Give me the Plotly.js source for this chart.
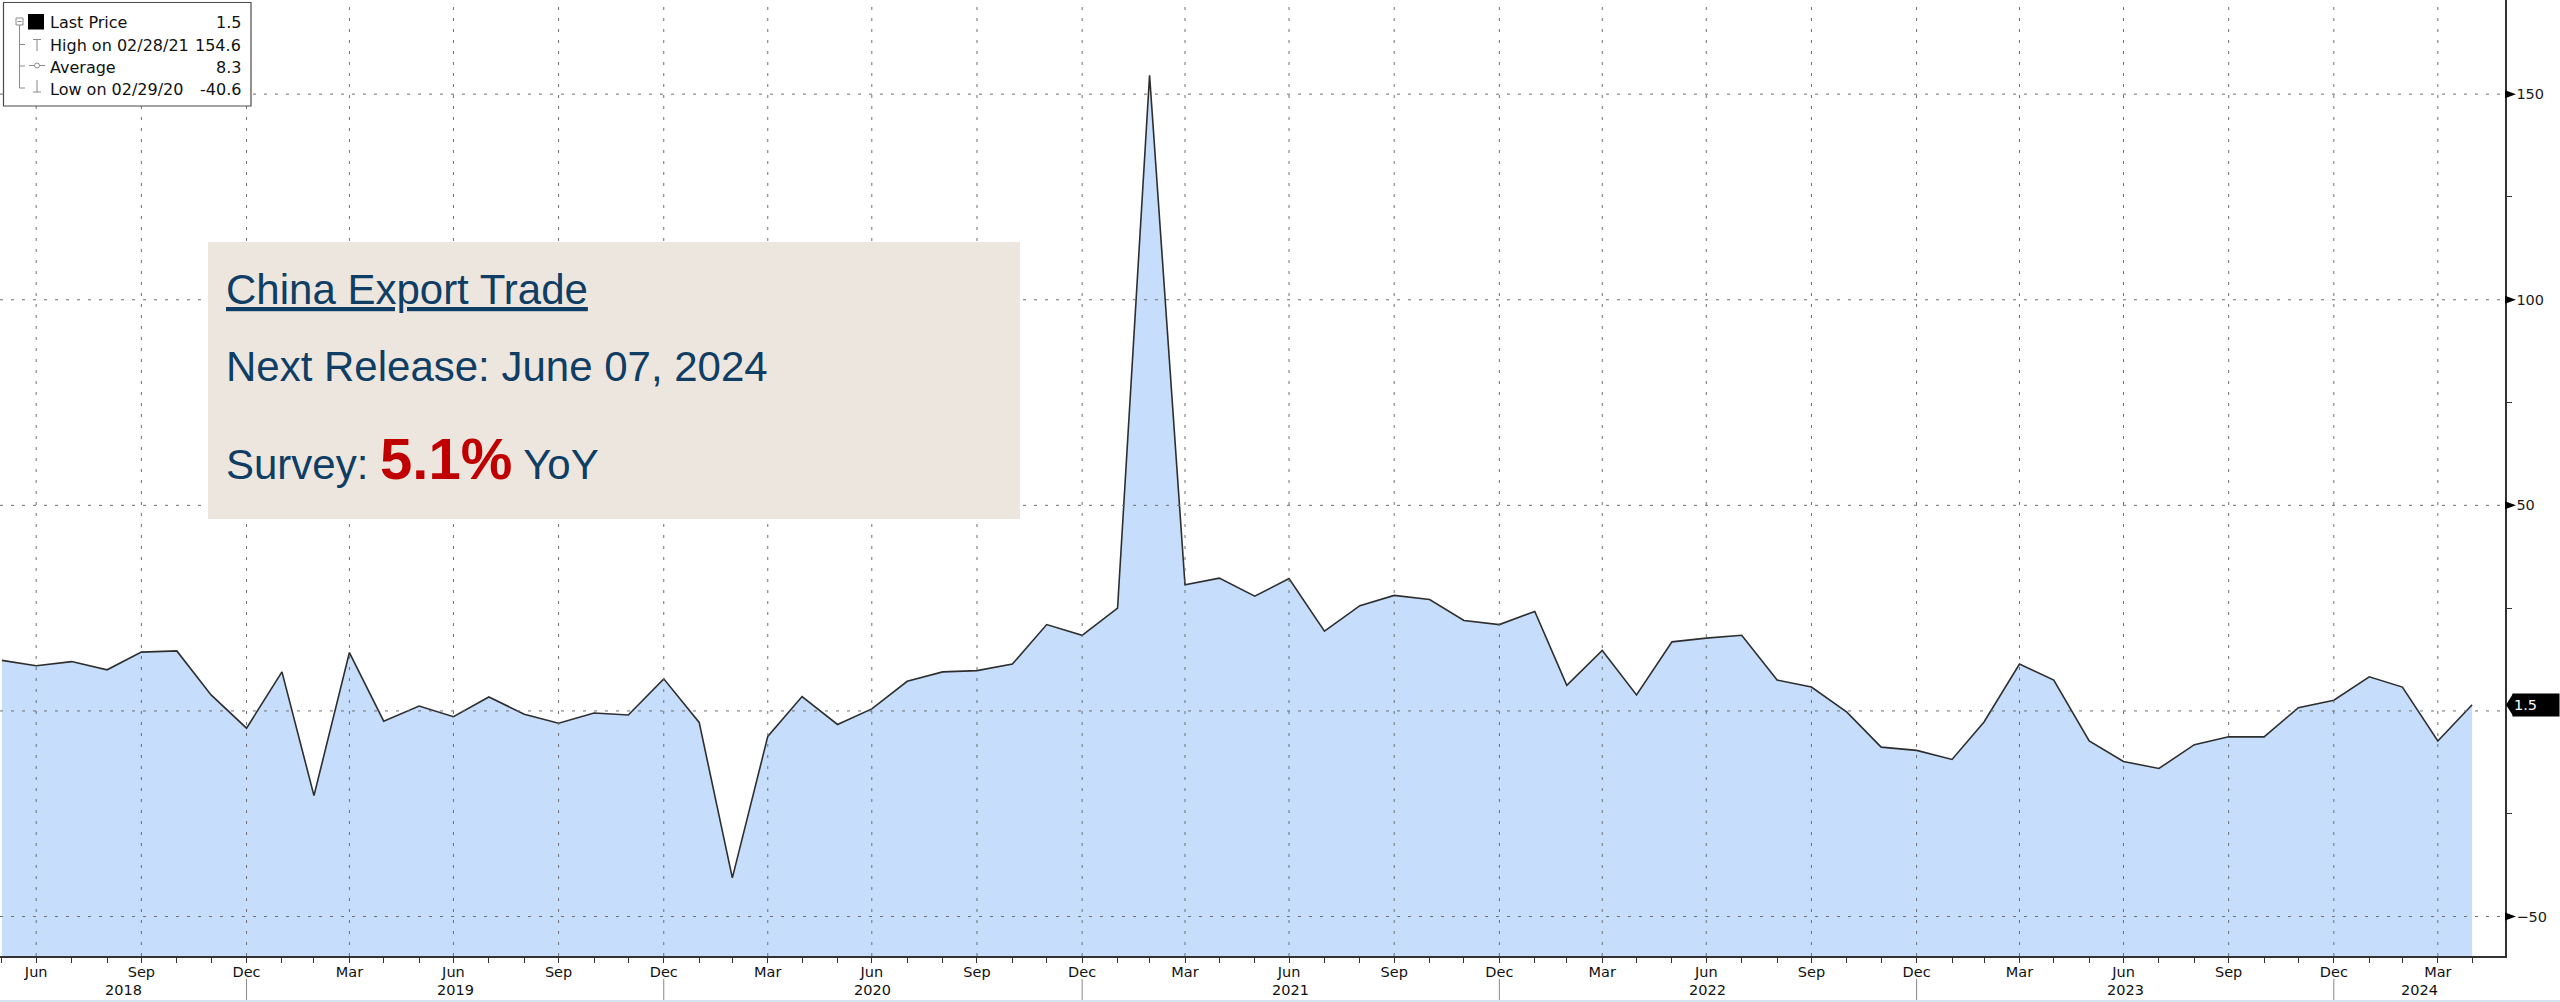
<!DOCTYPE html>
<html><head><meta charset="utf-8">
<script src="https://cdn.plot.ly/plotly-3.0.1.min.js"></script>
<style>html,body{margin:0;padding:0;background:#fff;overflow:hidden}#chart{width:2560px;height:1002px}</style>
</head><body><div id="chart"></div>
<script>
// ---------------- DATA ----------------
const dates = [
 "2018-05-31","2018-06-30","2018-07-31","2018-08-31","2018-09-30","2018-10-31","2018-11-30","2018-12-31",
 "2019-01-31","2019-02-28","2019-03-31","2019-04-30","2019-05-31","2019-06-30","2019-07-31","2019-08-31","2019-09-30","2019-10-31","2019-11-30","2019-12-31",
 "2020-01-31","2020-02-29","2020-03-31","2020-04-30","2020-05-31","2020-06-30","2020-07-31","2020-08-31","2020-09-30","2020-10-31","2020-11-30","2020-12-31",
 "2021-01-31","2021-02-28","2021-03-31","2021-04-30","2021-05-31","2021-06-30","2021-07-31","2021-08-31","2021-09-30","2021-10-31","2021-11-30","2021-12-31",
 "2022-01-31","2022-02-28","2022-03-31","2022-04-30","2022-05-31","2022-06-30","2022-07-31","2022-08-31","2022-09-30","2022-10-31","2022-11-30","2022-12-31",
 "2023-01-31","2023-02-28","2023-03-31","2023-04-30","2023-05-31","2023-06-30","2023-07-31","2023-08-31","2023-09-30","2023-10-31","2023-11-30","2023-12-31",
 "2024-01-31","2024-02-29","2024-03-31","2024-04-30"
];
const exportYoY = [
 12.3, 11.0, 12.0, 10.0, 14.3, 14.6, 3.9, -4.2,
 9.5, -20.6, 14.2, -2.5, 1.2, -1.4, 3.4, -0.8, -3.0, -0.5, -1.0, 7.8,
 -2.8, -40.6, -6.2, 3.5, -3.3, 0.5, 7.2, 9.5, 9.8, 11.4, 21.0, 18.4,
 25.0, 154.6, 30.7, 32.3, 27.9, 32.2, 19.4, 25.6, 28.1, 27.1, 22.0, 21.0,
 24.2, 6.2, 14.7, 3.9, 16.8, 17.7, 18.4, 7.5, 5.8, -0.3, -8.8, -9.6,
 -11.8, -2.7, 11.4, 7.5, -7.3, -12.3, -14.0, -8.2, -6.3, -6.3, 0.8, 2.6,
 8.3, 5.8, -7.3, 1.5
];
const monthNames = ["Jan","Feb","Mar","Apr","May","Jun","Jul","Aug","Sep","Oct","Nov","Dec"];
const quarterMonths = [3, 6, 9, 12];
const yearLabels = ["2018","2019","2020","2021","2022","2023","2024"];
const yMajorTicks = [-50, 50, 100, 150];
const yMinorTicks = [-25, 25, 75, 125];
const yGridValues = [-50, 0, 50, 100, 150];
const legendLabels = ["Last Price", "High on 02/28/21", "Average", "Low on 02/29/20"];
const legendValues = ["1.5", "154.6", "8.3", "-40.6"];
const boxTitle = "China Export Trade";
const boxRelease = "Next Release: June 07, 2024";
const surveyValue = "5.1%";

// ---------------- GEOMETRY / STYLE ----------------
const W = 2560, H = 1002;
const M = {l: 0, r: 55, t: 0, b: 46};
const PW = W - M.l - M.r, PH = H - M.t - M.b;
const X = px => px / PW;
const Y = py => 1 - py / PH;
const xRange = ["2018-05-29 08:00", "2024-05-28 18:00"];
const yRange = [-59.6, 172.9];
const UI = "DejaVu Sans, Verdana, sans-serif";
const HEL = "Liberation Sans, Arial, Helvetica, sans-serif";
const NAVY = "#0f3d64";
const GRID = "#6f6f6f";

const quarterDates = dates.filter(d => quarterMonths.includes(+d.slice(5, 7)));
const quarterText = quarterDates.map(d => monthNames[+d.slice(5, 7) - 1]);
const lastValue = exportYoY[exportYoY.length - 1];
const lastLabel = lastValue.toFixed(1);

const ms = s => new Date(s.replace(" ", "T") + (s.length > 10 ? ":00Z" : "T00:00:00Z")).getTime();
const toStr = t => new Date(t).toISOString().slice(0, 19).replace("T", " ");

// ---------------- TRACES ----------------
const traces = [
  {x: dates, y: dates.map(() => yRange[0]), mode: "lines", line: {width: 0, color: "rgba(0,0,0,0)"},
   hoverinfo: "skip", showlegend: false},
  {x: dates, y: exportYoY, mode: "lines", fill: "tonexty", fillcolor: "#c6defc",
   line: {color: "#2e2e2e", width: 1.6}, showlegend: false, name: "Last Price"}
];

// ---------------- SHAPES ----------------
const shapes = [];
const dashLine = {color: GRID, width: 1, dash: "3px,8px"};
quarterDates.forEach(d => shapes.push({type: "line", xref: "x", yref: "paper", x0: d, x1: d, y0: 0, y1: 1, line: dashLine, layer: "above"}));
yGridValues.forEach(v => shapes.push({type: "line", xref: "paper", yref: "y", x0: 0, x1: 1, y0: v, y1: v, line: dashLine, layer: "above"}));

// comment box
shapes.push({type: "rect", xref: "paper", yref: "paper", x0: X(208), x1: X(1020), y0: Y(242), y1: Y(519),
  fillcolor: "#ece6df", line: {width: 0}, layer: "above"});

// legend box
shapes.push({type: "rect", xref: "paper", yref: "paper", x0: X(3.5), x1: X(251), y0: Y(2.5), y1: Y(106),
  fillcolor: "#ffffff", line: {color: "#4a4a4a", width: 1.2}, layer: "above"});
const gl = {color: "#8a8a8a", width: 1};
const seg = (x0, y0, x1, y1, line) => shapes.push({type: "line", xref: "paper", yref: "paper", x0: X(x0), x1: X(x1), y0: Y(y0), y1: Y(y1), line: line || gl, layer: "above"});
// tree
shapes.push({type: "rect", xref: "paper", yref: "paper", x0: X(16), x1: X(23), y0: Y(18), y1: Y(25), line: gl, fillcolor: "#fff", layer: "above"});
seg(17.5, 21.5, 21.5, 21.5);
seg(19.5, 25, 19.5, 88);
seg(19.5, 44.5, 25, 44.5); seg(19.5, 66, 25, 66); seg(19.5, 88, 25, 88);
// icons
shapes.push({type: "rect", xref: "paper", yref: "paper", x0: X(28), x1: X(44), y0: Y(14), y1: Y(29.5), fillcolor: "#000", line: {width: 0}, layer: "above"});
seg(33, 39.5, 41, 39.5); seg(37, 39.5, 37, 51);
seg(29, 65.5, 45, 65.5);
shapes.push({type: "circle", xref: "paper", yref: "paper", x0: X(34.5), x1: X(39.5), y0: Y(63), y1: Y(68), line: gl, fillcolor: "#fff", layer: "above"});
seg(37, 80, 37, 92); seg(33, 92, 41, 92);

// right axis triangle ticks
yMajorTicks.forEach(v => shapes.push({type: "path", xref: "paper", yref: "y", xsizemode: "pixel", ysizemode: "pixel",
  xanchor: 1, yanchor: v, path: "M0,-4 L0,4 L11,0 Z", fillcolor: "#000", line: {width: 0}, layer: "above"}));
// last value notch
shapes.push({type: "path", xref: "paper", yref: "y", xsizemode: "pixel", ysizemode: "pixel",
  xanchor: 1, yanchor: lastValue, path: "M1,0 L8,11 L8,-11 Z", fillcolor: "#000", line: {width: 0}, layer: "above"});

// year separators
const r0 = ms(xRange[0]), r1 = ms(xRange[1]);
yearLabels.forEach(y => {
  const b = `${y}-12-31`;
  if (ms(b) > r0 && ms(b) < r1) shapes.push({type: "line", xref: "x", yref: "paper", x0: b, x1: b, y0: Y(979), y1: Y(1001), line: {color: "#8a8a8a", width: 1}});
});
// bottom strip
shapes.push({type: "line", xref: "paper", yref: "paper", x0: 0, x1: W / PW, y0: Y(1001), y1: Y(1001), line: {color: "#d4e3f2", width: 2}});

// ---------------- ANNOTATIONS ----------------
const ann = [];
const txt = (text, x, y, o = {}) => ann.push(Object.assign({xref: "paper", yref: "paper", x: X(x), y: Y(y), text, showarrow: false,
  xanchor: "left", yanchor: "middle", borderpad: 0, font: {family: UI, size: 16, color: "#111"}}, o));
const legendRowY = [23, 45.5, 67, 89];
legendLabels.forEach((l, i) => txt(l, 49, legendRowY[i]));
legendValues.forEach((v, i) => txt(v, 242, legendRowY[i], {xanchor: "right"}));

txt(`<span style="text-decoration:underline">${boxTitle}</span>`, 225, 289, {font: {family: HEL, size: 42, color: NAVY}});
txt(boxRelease, 225, 366, {font: {family: HEL, size: 42, color: NAVY}});
txt(`Survey: <span style="font-size:58px;font-weight:bold;color:#c00000">${surveyValue}</span> YoY`, 225, 458,
  {font: {family: HEL, size: 42, color: NAVY}});

// last value label
ann.push({xref: "paper", yref: "y", x: X(2512), y: lastValue, text: lastLabel, showarrow: false, xanchor: "left", yanchor: "middle",
  bgcolor: "#000", width: 44, height: 20, align: "left", borderpad: 1, font: {family: UI, size: 14.5, color: "#fff"}});

// year labels
yearLabels.forEach(y => {
  const a = Math.max(r0, ms(`${+y - 1}-12-31`)), b = Math.min(r1, ms(`${y}-12-31`));
  ann.push({xref: "x", yref: "paper", x: toStr((a + b) / 2), y: Y(990), text: y, showarrow: false, xanchor: "center", yanchor: "middle",
    font: {family: UI, size: 14.5, color: "#111"}});
});

// ---------------- LAYOUT ----------------
const layout = {
  width: W, height: H, margin: M, paper_bgcolor: "#fff", plot_bgcolor: "#fff", showlegend: false,
  xaxis: {type: "date", range: xRange, showgrid: false, zeroline: false, showline: true, linecolor: "#333", linewidth: 1.5,
    tickmode: "array", tickvals: quarterDates, ticktext: quarterText, ticks: "outside", ticklen: 5, tickwidth: 1, tickcolor: "#333",
    ticklabelstandoff: -3,
    tickfont: {family: UI, size: 14.5, color: "#111"}, minor: {tickmode: "array", tickvals: dates, ticks: "outside", ticklen: 5, tickwidth: 1, tickcolor: "#333"},
    fixedrange: true},
  yaxis: {side: "right", range: yRange, showgrid: false, zeroline: false, showline: true, linecolor: "#333", linewidth: 1.5,
    tickmode: "array", tickvals: yMajorTicks, ticks: "outside", ticklen: 7, tickwidth: 1, tickcolor: "#000",
    tickfont: {family: UI, size: 14.5, color: "#1a1a1a"},
    minor: {tickmode: "array", tickvals: yMinorTicks, ticks: "outside", ticklen: 5, tickwidth: 1, tickcolor: "#333"},
    fixedrange: true},
  shapes, annotations: ann
};
Plotly.newPlot("chart", traces, layout, {staticPlot: true, displayModeBar: false});
</script></body></html>
